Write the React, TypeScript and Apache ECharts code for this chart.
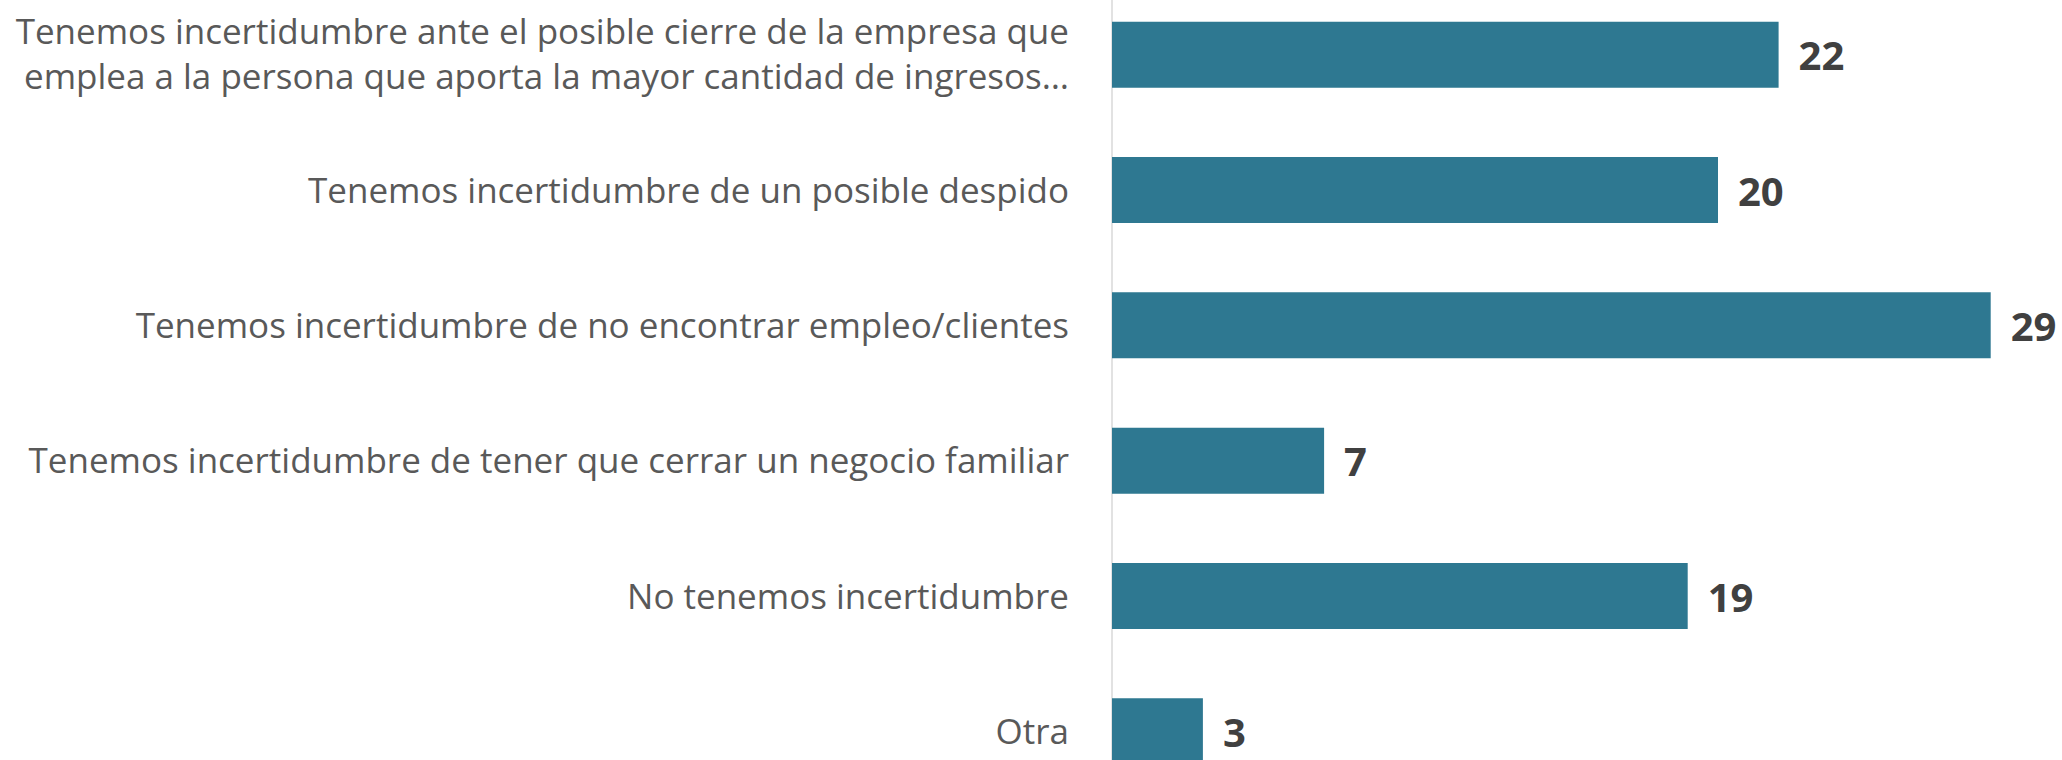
import React, { useEffect, useRef } from "react";
import * as echarts from "echarts";

const categories: string[] = [
  "Tenemos incertidumbre ante el posible cierre de la empresa que\nemplea a la persona que aporta la mayor cantidad de ingresos…",
  "Tenemos incertidumbre de un posible despido",
  "Tenemos incertidumbre de no encontrar empleo/clientes",
  "Tenemos incertidumbre de tener que cerrar un negocio familiar",
  "No tenemos incertidumbre",
  "Otra",
];

const values: number[] = [22, 20, 29, 7, 19, 3];

export default function App() {
  const ref = useRef<HTMLDivElement>(null);
  useEffect(() => {
    if (!ref.current) return;
    const chart = echarts.init(ref.current, undefined, { renderer: "svg" });
    chart.setOption({
      animation: false,
      backgroundColor: "#ffffff",
      grid: { left: 1112, right: 41, top: 0, bottom: 0, containLabel: false },
      xAxis: {
        type: "value",
        min: 0,
        max: 30,
        show: false,
      },
      yAxis: {
        type: "category",
        inverse: true,
        data: categories,
        axisLine: { show: true, lineStyle: { color: "#d9d9d9", width: 1.5 } },
        axisTick: { show: false },
        axisLabel: {
          margin: 43,
          color: "#595959",
          fontFamily: "Open Sans",
          fontSize: 35,
          lineHeight: 45,
          align: "right",
          formatter: (v: string, i: number) =>
            i === 0
              ? v
                  .split("\n")
                  .map((s) => "{w|" + s + "}")
                  .join("\n")
              : "{n|" + v + "}",
          rich: {
            w: {
              color: "#595959",
              fontFamily: "Open Sans",
              fontSize: 35,
              lineHeight: 45,
              padding: [0, 0, 4, 0],
            },
            n: {
              color: "#595959",
              fontFamily: "Open Sans",
              fontSize: 35,
              lineHeight: 45,
              padding: [0, 0, 2, 0],
            },
          },
        },
        splitLine: { show: false },
      },
      series: [
        {
          type: "bar",
          data: values,
          barWidth: 66,
          itemStyle: { color: "#2e7891" },
          label: {
            show: true,
            position: "right",
            distance: 20,
            color: "#404040",
            fontFamily: "Open Sans",
            fontWeight: "bold",
            fontSize: 40,
          },
        },
      ],
    });
    return () => chart.dispose();
  }, []);
  return (
    <div
      ref={ref}
      style={{ position: "fixed", left: 0, top: -13, width: 2062, height: 812 }}
    />
  );
}
